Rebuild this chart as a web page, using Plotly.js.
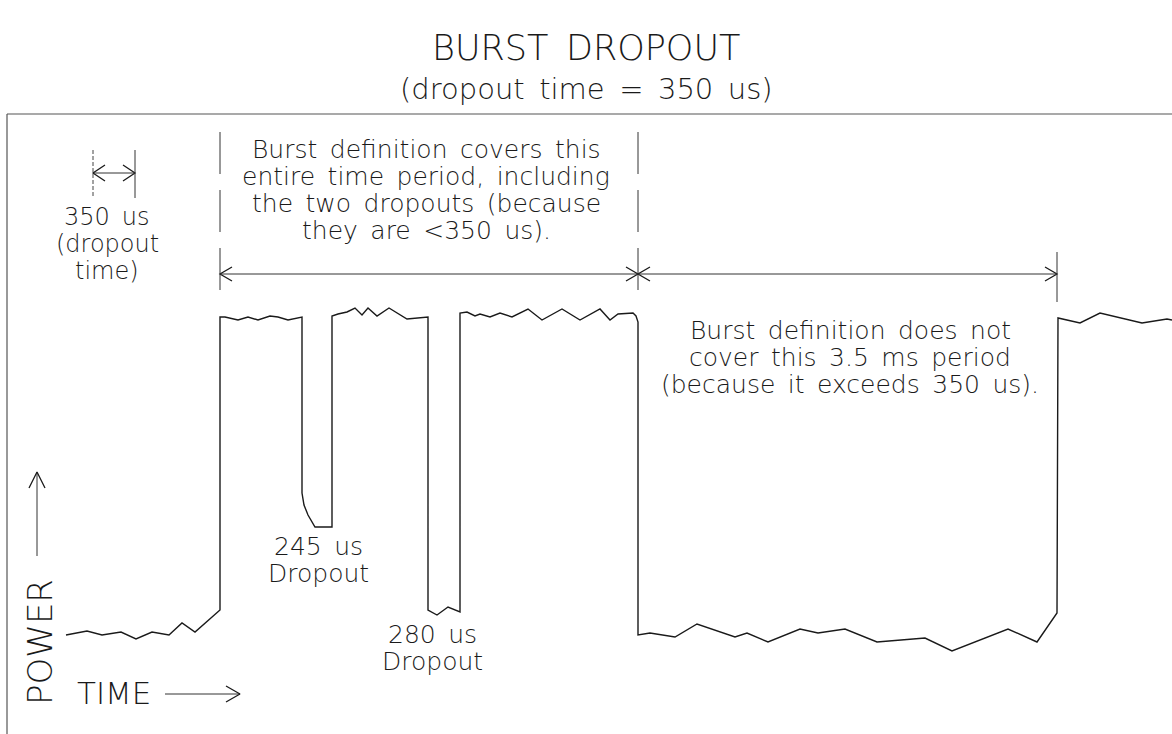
<!DOCTYPE html>
<html>
<head>
<meta charset="utf-8">
<script src="https://cdn.plot.ly/plotly-3.0.1.min.js"></script>
<style>html,body{margin:0;padding:0;background:#fff;}#chart{width:1172px;height:734px;}</style>
</head>
<body>
<div id="chart"></div>
<script>
// ---- Data (time in drawing units, power level in drawing units) ----
const time = [66, 87, 102, 121, 136, 152, 169, 182, 195, 220,
  220, 225, 238, 248, 258, 270, 278, 288, 302,
  302, 304, 308, 315, 332,
  332, 338, 347, 355, 362, 368, 377, 389, 407, 428,
  428, 433, 437, 448, 460,
  460, 467, 475, 480, 490, 500, 512, 528, 542, 562, 580, 600, 610, 618, 633, 636, 638,
  638, 650, 675, 697, 735, 747, 768, 800, 818, 845, 877, 925, 952, 1008, 1037, 1057,
  1058, 1080, 1100, 1142, 1167, 1172];
const power = [99, 103, 99, 102, 95, 102, 99, 111, 102, 124,
  417, 417, 414, 417, 414, 418, 417, 414, 417,
  241, 229, 219, 207, 207,
  418, 420, 422, 426, 419, 426, 418, 426, 415, 417,
  124, 121, 119, 127, 122,
  421, 422, 418, 420, 417, 421, 417, 425, 414, 425, 414, 425, 414, 420, 421, 418, 412,
  99, 101, 97, 110, 97, 101, 92, 105, 101, 105, 92, 96, 83, 105, 92, 121,
  416, 411, 421, 411, 415, 414];

const titleLines = ['BURST DROPOUT', '(dropout time = 350 us)'];
const dropoutTimeLabel = ['350 us', '(dropout', 'time)'];
const coversLabel = ['Burst definition covers this', 'entire time period, including', 'the two dropouts (because', 'they are &lt;350 us).'];
const notCoversLabel = ['Burst definition does not', 'cover this 3.5 ms period', '(because it exceeds 350 us).'];
const dropout1Label = ['245 us', 'Dropout'];
const dropout2Label = ['280 us', 'Dropout'];
const axisLabels = {power: 'POWER', time: 'TIME'};

// ---- helpers ----
const H = 734, W = 1172;
const Y = v => H - v;              // position measured from the top of the drawing
const sp = s => s.replace(/ /g, '\u2002');
const INK = '#1a1a1a';
const FONT = 'DejaVu Sans, Liberation Sans, sans-serif';

function textLines(lines, x, yTop, step, size) {
  return lines.map((t, i) => ({
    x: x, y: Y(yTop + i * step), xref: 'x', yref: 'y', text: sp(t), showarrow: false,
    xanchor: 'center', yanchor: 'middle',
    font: {family: FONT, size: size, color: INK, weight: 200}
  }));
}

// arrow head polylines
const hx = [], hy = [];
function head(xt, yt, dir, len, half) {
  if (dir === 'right') { hx.push(xt - len, xt, xt - len, null); hy.push(Y(yt - half), Y(yt), Y(yt + half), null); }
  if (dir === 'left')  { hx.push(xt + len, xt, xt + len, null); hy.push(Y(yt - half), Y(yt), Y(yt + half), null); }
  if (dir === 'up')    { hx.push(xt - half, xt, xt + half, null); hy.push(Y(yt + len), Y(yt), Y(yt + len), null); }
}
const lx = [], ly = [];
function seg(x0, y0, x1, y1) { lx.push(x0, x1, null); ly.push(Y(y0), Y(y1), null); }

// 350 us marker
seg(93, 173, 135, 173); head(93, 173, 'left', 12, 8); head(135, 173, 'right', 12, 8);
// burst-covered period
seg(220, 274, 638, 274); head(220, 274, 'left', 12, 7); head(638, 274, 'right', 12, 7);
// not covered period
seg(638, 274, 1057, 274); head(638, 274, 'left', 12, 7); head(1057, 274, 'right', 12, 7);
// POWER / TIME arrows
seg(37, 556, 37, 472); head(37, 472, 'up', 16, 8);
seg(165, 694, 240, 694); head(240, 694, 'right', 14, 8);

const traces = [
  {x: time, y: power, type: 'scatter', mode: 'lines', line: {color: INK, width: 1.4}, hoverinfo: 'skip'},
  {x: lx, y: ly, type: 'scatter', mode: 'lines', line: {color: '#333', width: 1}, hoverinfo: 'skip'},
  {x: hx, y: hy, type: 'scatter', mode: 'lines', line: {color: INK, width: 1.3}, hoverinfo: 'skip'}
];

const shapes = [
  {type: 'line', xref: 'x', yref: 'y', x0: 7, x1: W, y0: Y(114), y1: Y(114), line: {color: '#555', width: 1.2}},
  {type: 'line', xref: 'x', yref: 'y', x0: 7, x1: 7, y0: Y(114), y1: 0, line: {color: '#555', width: 1.2}},
  {type: 'line', xref: 'x', yref: 'y', x0: 220, x1: 220, y0: Y(132), y1: Y(300), line: {color: '#333', width: 1, dash: '42px,16px'}},
  {type: 'line', xref: 'x', yref: 'y', x0: 638, x1: 638, y0: Y(132), y1: Y(300), line: {color: '#333', width: 1, dash: '42px,16px'}},
  {type: 'line', xref: 'x', yref: 'y', x0: 1057, x1: 1057, y0: Y(252), y1: Y(302), line: {color: '#333', width: 1}},
  {type: 'line', xref: 'x', yref: 'y', x0: 93, x1: 93, y0: Y(150), y1: Y(198), line: {color: '#444', width: 1, dash: '4px,2px'}},
  {type: 'line', xref: 'x', yref: 'y', x0: 135, x1: 135, y0: Y(150), y1: Y(198), line: {color: '#333', width: 1}}
];

const annotations = [].concat(
  [{x: 586, y: Y(48), xref: 'x', yref: 'y', text: sp(titleLines[0]), showarrow: false, xanchor: 'center', yanchor: 'middle',
    font: {family: FONT, size: 35, color: INK, weight: 200}},
   {x: 586, y: Y(89), xref: 'x', yref: 'y', text: sp(titleLines[1]), showarrow: false, xanchor: 'center', yanchor: 'middle',
    font: {family: FONT, size: 29, color: INK, weight: 200}}],
  textLines(dropoutTimeLabel, 107, 217, 27, 24),
  textLines(coversLabel, 426, 149, 27, 25),
  textLines(notCoversLabel, 850, 330, 27, 25),
  textLines(dropout1Label, 318, 546, 27, 25),
  textLines(dropout2Label, 432, 634, 27, 25),
  [{x: 40, y: Y(642), xref: 'x', yref: 'y', text: axisLabels.power, showarrow: false, textangle: -90,
    xanchor: 'center', yanchor: 'middle', font: {family: FONT, size: 34, color: INK, weight: 200}},
   {x: 114, y: Y(693), xref: 'x', yref: 'y', text: axisLabels.time, showarrow: false,
    xanchor: 'center', yanchor: 'middle', font: {family: FONT, size: 31, color: INK, weight: 200}}]
);

const layout = {
  width: W, height: H,
  margin: {l: 0, r: 0, t: 0, b: 0},
  paper_bgcolor: '#fff', plot_bgcolor: '#fff',
  showlegend: false,
  xaxis: {range: [0, W], visible: false, fixedrange: true},
  yaxis: {range: [0, H], visible: false, fixedrange: true},
  shapes: shapes,
  annotations: annotations
};

Plotly.newPlot('chart', traces, layout, {displayModeBar: false, staticPlot: true});
</script>
</body>
</html>
